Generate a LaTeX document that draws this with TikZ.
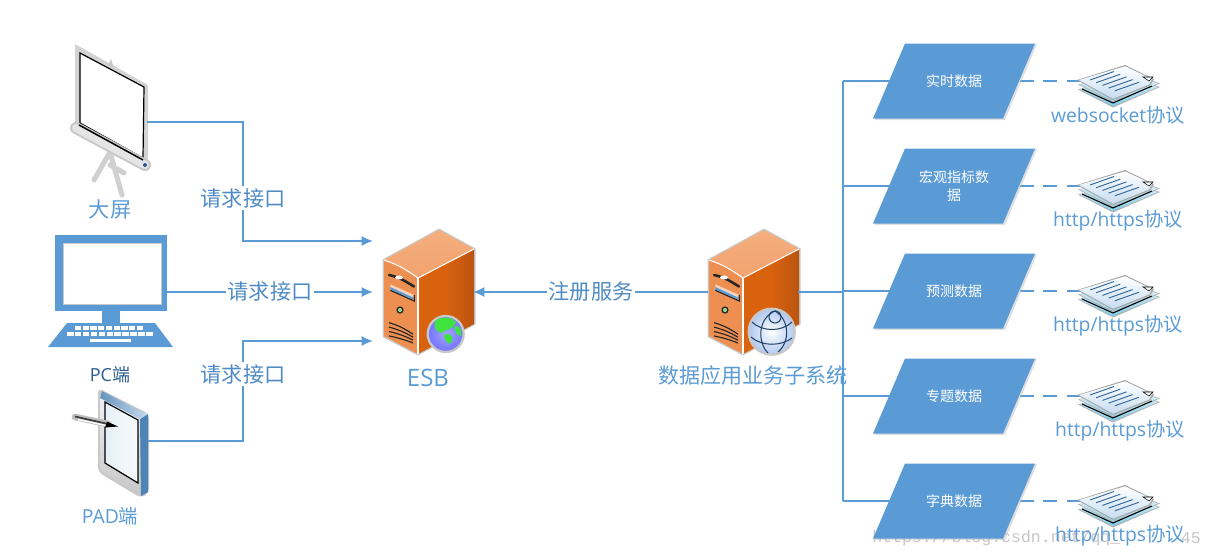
\documentclass[tikz,border=0pt]{standalone}
\usepackage{fontspec}
\setmainfont{Open Sans}
\newfontfamily\cjk{Noto Sans CJK SC}
\newfontfamily\wm{Liberation Mono}
\usetikzlibrary{arrows.meta,calc}
\definecolor{lnblue}{HTML}{5B9BD5}
\definecolor{txblue}{HTML}{5B9BD5}
\definecolor{lblblue}{HTML}{4F8CC4}
\definecolor{darkblue}{HTML}{2A5B8C}
\definecolor{frontor}{HTML}{EE8F52}
\definecolor{topor}{HTML}{F4AE7E}
\definecolor{sideor}{HTML}{D9620F}
\definecolor{sidedk}{HTML}{B9540F}
\definecolor{edgegr}{HTML}{C8C8C8}
\tikzset{
 x=0.75pt,y=-0.75pt,
 link/.style={draw=lnblue,line width=1.15pt},
 arrowlink/.style={link,-{Latex[length=8.5pt,width=7.5pt]}},
 dashlink/.style={link,dash pattern=on 10.5pt off 7pt},
 biglabel/.style={font=\fontsize{15.2}{18}\selectfont,text=txblue,inner sep=0pt},
 linklabel/.style={font=\cjk\fontsize{15.9}{18}\selectfont,text=lblblue,fill=white,inner xsep=1pt,inner ysep=2pt},
 datanode/.style={font=\cjk\fontsize{10.5}{13.5}\selectfont,text=white,align=center,inner sep=0pt,text width=54pt},
 iconbox/.style={inner sep=0pt,minimum width=0pt,minimum height=0pt},
 para/.style={fill=lnblue,draw=none},
 server/.pic={
  \fill[edgegr,line join=round] (55,-1.5)--(91.5,18.5)--(91.5,94.5)--(34,125.5)--(-1.5,107)--(-1.5,29.5)--cycle;
  \shade[top color=topor,bottom color=topor!65!frontor] (55,0)--(90,19)--(34,48) .. controls (20,38) and (12,34) .. (0,30)--cycle;
  \fill[frontor] (0,30) .. controls (12,34) and (20,38) .. (34,48)--(34,124)--(0,106)--cycle;
  \shade[left color=sideor,right color=sidedk,middle color=sideor] (34,48)--(90,19)--(90,94)--(34,124)--cycle;
  \draw[white,line width=0.8pt] (0,30) .. controls (12,34) and (20,38) .. (34,48)--(90,19);
  \draw[white,line width=0.8pt] (34,48)--(34,124);
  \draw[black!85,line width=1.9pt,line cap=round] (5,45) .. controls (15,47) and (21,51) .. (30,56.5);
  \fill[white] (15,47.5) ellipse (4 and 2);
  \fill[frontor!40!white] (6.3,54.3)--(30.3,65)--(30.3,71)--(6.3,60.3)--cycle;
  \fill[lnblue] (6.3,57)--(29,67.5)--(29,69.5)--(6.3,59.5)--cycle;
  \draw[black!85,line width=0.9pt] (6.3,60.3)--(30.3,71)--(30.3,65);
  \fill[black!85] (16,80) circle (3.6);
  \fill[green!45!gray!60] (16,80) circle (2.1);
  \foreach \i in {0,1,2,3}{\draw[black!85,line width=0.85pt] (5,92.7+\i*4.4) .. controls (13,95+\i*4.2) and (20,98+\i*3.8) .. (29,104.3+\i*2.9);}
 },
 docstack/.pic={
  \fill[gray!60] (0,9.5)--(35,27.5)--(82,7)--(50,-5)--cycle;
  \shade[top color=white!85!lnblue,bottom color=cyan!30!lnblue!70] (2,9.5)--(35,26)--(80,7)--(48,-4)--cycle;
  \fill[gray!60] (0,4.5)--(35,22.5)--(82,3.5)--(50,-8)--cycle;
  \shade[top color=white!90!lnblue,bottom color=cyan!25!lnblue!60] (2,4.5)--(35,21)--(80,3.5)--(48,-7)--cycle;
  \draw[black,line width=.8pt] (4,9)--(35,23)--(74,6);
  \fill[gray!70] (-1,0)--(47,-15)--(76,-1)--(72,5.5)--(35,20)--cycle;
  \shade[top color=white,bottom color=white!65!lnblue] (1,0)--(47,-13.7)--(74,-1)--(71,4.5)--(35,18.7)--cycle;
  \foreach \i in {0,1,2,3,4}{\draw[darkblue!80!lnblue,line width=.7pt] (12+\i*6.2,0+\i*2.7)--(36+\i*6.2,-8.5+\i*2.7);}
  \fill[white,draw=black,line width=.4pt] (65,-3)--(75,-3)--(71,1)--cycle;
 },
}
\begin{document}
\begin{tikzpicture}
\useasboundingbox (0,0) rectangle (1213,558);
% watermark
\node[anchor=west,inner sep=0pt,font=\wm\fontsize{12.4}{14}\selectfont,text=gray!45] (wmleft) at (872,538) {https://blog.csdn.net/qq\_};
\node[anchor=east,inner sep=0pt,font=\wm\fontsize{12.4}{14}\selectfont,text=gray!45] (wmright) at (1201,538) {45};

% ---------- screen
\fill[edgegr!80!white] (75,44)--(148,85)--(148,163)--(75,127)--cycle;
\fill[white] (80,53)--(144,87)--(143,158)--(80,123)--cycle;
\draw[black,line width=0.9pt] (80,53)--(144,87)--(143,158)--(80,123)--cycle;
\fill[edgegr] (108,66)--(111,59)--(114,68)--cycle;
\draw[edgegr!85!white,line width=3.8pt,line cap=round] (110,152)--(94,180) (110,152)--(122,195) (110,165)--(124,173);
\draw[edgegr,line width=9pt,line cap=round] (76,128)--(145,165);
\draw[white!90!black,line width=6pt,line cap=round] (76,128)--(145,165);
\draw[black,line width=1.1pt] (79,125)--(143,160);
\fill[darkblue] (145,165) circle (2);
\node[iconbox,minimum width=73pt,minimum height=92pt] (screen) at (111,105) {};
\node[biglabel,font=\cjk\fontsize{15.9}{18}\selectfont] (screenlbl) at (110,209) {大屏};

% ---------- PC
\fill[lnblue] (55,235)--(167,235)--(167,311)--(55,311)--cycle;
\fill[white,draw=edgegr,line width=.7pt] (63,243) rectangle (161,304);
\fill[lnblue] (102,311) rectangle (120,323);
\fill[lnblue] (67,323)--(155,323)--(173,347)--(48,347)--cycle;
\foreach \k in {0,...,8}{\fill[white] (75+\k*7.7,326.3) rectangle +(6.3,3.6);}
\foreach \k in {0,...,10}{\fill[white] (67+\k*7.9,332.3) rectangle +(6.5,3.6);}
\fill[white] (90,338.8) rectangle (131,341.5);
\node[iconbox,minimum width=84pt,minimum height=84pt] (pc) at (111,291) {};
\node[biglabel,font=\cjk\fontsize{13.5}{16}\selectfont,text=darkblue] (pclbl) at (110,375) {{\fontspec{Open Sans}PC}端};

% ---------- PAD
\fill[edgegr,rounded corners=4pt] (98,388)--(149,414)--(149,493)--(141,498)--(98,472)--cycle;
\shade[top color=white!95!black,bottom color=white!78!black,rounded corners=3pt] (100,392)--(140,414)--(140,495)--(100,470)--cycle;
\fill[lnblue!85!black] (140,418)--(148,414)--(148,492)--(141,496)--cycle;
\shade[left color=lnblue!70!gray,right color=white!65!lnblue] (102,391)--(142,412)--(148,414)--(140,419)--(100,398)--cycle;
\shade[left color=white!85!lnblue,right color=white!95!lnblue,draw=black,line width=.9pt] (105,402)--(138,420)--(138,483)--(105,463)--cycle;
\draw[gray!50,line width=5pt,line cap=round] (75,417)--(108,424);
\draw[black!75,line width=1.3pt] (75,416.5)--(108,424);
\draw[white,line width=1pt] (78,419.5)--(106,425.5);
\fill[black] (107,421.5)--(118,426.5)--(105,427.5)--cycle;
\node[iconbox,minimum width=39pt,minimum height=82pt] (pad) at (123,443) {};
\node[biglabel,font=\cjk\fontsize{14.5}{17}\selectfont] (padlbl) at (110,516) {{\fontspec{Open Sans}PAD}端};

% ---------- servers
\pic at (384,230) {server};
\shade[inner color=white!40!blue!60,outer color=blue!55!white] (445.7,334) circle (18);
\draw[edgegr,line width=1.7pt] (445.7,334) circle (18);
\fill[green!85!black!75] (436,320) .. controls (444,316) and (452,317) .. (456,322) .. controls (452,332) and (446,328) .. (442,333) .. controls (436,332) and (432,326) .. (436,320)--cycle;
\fill[green!85!black!75] (444,335) .. controls (450,332) and (454,336) .. (452,342) .. controls (449,346) and (445,342) .. (444,335)--cycle;
\fill[green!85!black!75] (455,326) .. controls (460,325) and (462,330) .. (461,336) .. controls (457,336) and (454,331) .. (455,326)--cycle;
\node[iconbox,minimum width=68pt,minimum height=94pt] (esb) at (428,291) {};
\node[biglabel,font=\fontsize{18}{20}\selectfont] (esblbl) at (428,378) {ESB};

\pic at (709,230) {server};
\shade[inner color=white,outer color=blue!15!lnblue!45] (771.7,331.7) circle (23);
\draw[edgegr,line width=1.7pt] (771.7,331.7) circle (23);
\begin{scope}[darkblue!70!black,line width=.75pt]
\draw (752,322) .. controls (762,332) and (782,332) .. (792,322);
\draw (751,337) .. controls (762,347) and (782,346) .. (792,338);
\draw (775,311) .. controls (758,318) and (757,342) .. (768,353);
\draw (775,311) .. controls (790,320) and (790,342) .. (778,352);
\draw (775,317) circle (6);
\end{scope}
\node[iconbox,minimum width=68pt,minimum height=94pt] (dataapp) at (753,291) {};
\node[biglabel,font=\cjk\fontsize{15.8}{18}\selectfont] (applbl) at (753,375) {数据应用业务子系统};

% ---------- connectors left
\coordinate (esbA) at (373,241);
\coordinate (esbB) at (373,292);
\coordinate (esbC) at (373,341);
\coordinate (esbD) at (473,292);
\coordinate (scrOut) at (147,122);
\coordinate (pcOut) at (167,292);
\coordinate (padOut) at (148,441);
\coordinate (appOut) at (708,292);
\draw[arrowlink] (scrOut)--(243,122)--(243,241)--(esbA);
\draw[arrowlink] (pcOut)--(esbB);
\draw[arrowlink] (padOut)--(243,441)--(243,341)--(esbC);
\draw[arrowlink] (appOut)--(esbD);
\node[linklabel] (l1) at (243,198) {请求接口};
\node[linklabel] (l2) at (270,291) {请求接口};
\node[linklabel] (l3) at (243,374) {请求接口};
\node[linklabel] (l4) at (591,291) {注册服务};

% ---------- right column
\coordinate (busTop) at (843,81);
\coordinate (busBot) at (843,501);
\coordinate (busMid) at (843,292);
\coordinate (appEast) at (798,292);
\draw[link] (busTop)--(busBot);
\draw[link] (appEast)--(busMid);

\foreach \n/\yy/\tx/\lab/\lx in {
 a/81/{实时数据}/{websocket{\cjk 协议}}/1118,
 b/186/{宏观指标数\\据}/{http/https{\cjk 协议}}/1118,
 c/291/{预测数据}/{http/https{\cjk 协议}}/1118,
 d/396/{专题数据}/{http/https{\cjk 协议}}/1120,
 e/501/{字典数据}/{http/https{\cjk 协议}}/1120}{
 \draw[link] (843,\yy)--(890,\yy);
 \draw[dashlink] (1020,\yy)--(1090,\yy);
 \fill[black!25,opacity=.5] (875,\yy+39)--(905,\yy-36)--(1037,\yy-37)--(1005,\yy+39)--cycle;
 \fill[para] (873,\yy+37.5)--(905,\yy-37.5)--(1035,\yy-37.5)--(1003,\yy+37.5)--cycle;
 \node[datanode] (data\n) at (954,\yy) {\tx};
 \pic at (1078,\yy-1) {docstack};
 \node[biglabel,fill=none,font=\fontsize{14.5}{17}\selectfont] (proto\n) at (\lx,\yy+34.5) {\lab};
}
\end{tikzpicture}
\end{document}
